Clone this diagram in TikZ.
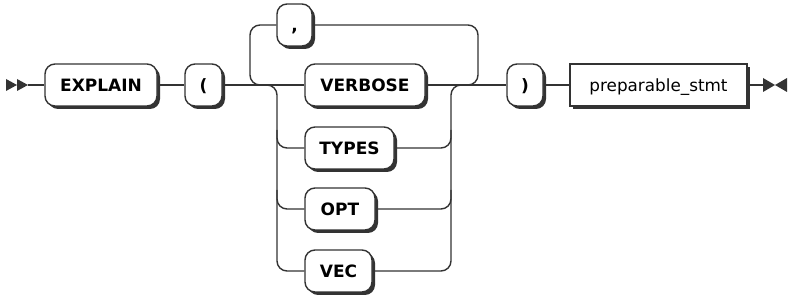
\documentclass[tikz,border=0pt]{standalone}
\usepackage{fontspec}
\setmainfont{DejaVu Sans}
\usetikzlibrary{shadows}
\definecolor{rr}{HTML}{333333}
\begin{document}
\begin{tikzpicture}[x=1pt,y=-1pt,
  conn/.style={draw=rr,line width=1.4pt},
  rconn/.style={conn,rounded corners=10pt},
  boxbase/.style={draw=rr,line width=1.4pt,fill=white,minimum height=42pt,inner sep=0pt,
    text height=12.4pt,text depth=0pt,
    drop shadow={shadow xshift=3pt,shadow yshift=-3pt,fill=rr,opacity=1}},
  term/.style={boxbase,rounded corners=10pt,font=\fontsize{17}{20}\selectfont\bfseries},
  nonterm/.style={boxbase,font=\fontsize{16.8}{20}\selectfont},
  tip/.style={fill=rr}
]
\useasboundingbox (0,0) rectangle (793,299);

% nodes
\node[term,minimum width=112pt] (explain) at (101,85) {EXPLAIN};
\node[term,minimum width=37pt] (lparen) at (203.5,85) {(};
\node[term,minimum width=35pt] (comma) at (294.5,25) {,};
\node[term,minimum width=120pt] (verbose) at (365,85) {VERBOSE};
\node[term,minimum width=89pt] (types) at (349.5,148) {TYPES};
\node[term,minimum width=70pt] (opt) at (340,209) {OPT};
\node[term,minimum width=67pt] (vec) at (338.5,271) {VEC};
\node[term,minimum width=36pt] (rparen) at (525,85) {)};
\node[nonterm,minimum width=177pt] (stmt) at (658.5,85) {preparable\_stmt};

\coordinate (s) at (28,85);
\coordinate (e) at (763,85);

% start / end markers
\fill[tip] (6,79) -- (17,85) -- (6,91) -- cycle;
\fill[tip] (17,79) -- (28,85) -- (17,91) -- cycle;
\fill[tip] (763,78) -- (775,85) -- (763,92) -- cycle;
\fill[tip] (787,78) -- (775,85) -- (787,92) -- cycle;

% main line
\draw[conn] (s) -- (explain.west);
\draw[conn] (explain.east) -- (lparen.west);
\draw[conn] (lparen.east) -- (verbose.west);
\draw[conn] (verbose.east) -- (rparen.west);
\draw[conn] (rparen.east) -- (stmt.west);
\draw[conn] (stmt.east) -- (e);

% loop with separator
\draw[rconn] (comma.west) -- (250,25) -- (250,85) -- (262,85);
\draw[rconn] (comma.east) -- (478,25) -- (478,85) -- (466,85);

% choice left side
\draw[rconn] (265,85) -- (277,85) -- (277,271) -- (vec.west);
\draw[rconn] (277,130) -- (277,148) -- (types.west);
\draw[rconn] (277,190) -- (277,209) -- (opt.west);

% choice right side
\draw[rconn] (vec.east) -- (451,271) -- (451,85) -- (463,85);
\draw[rconn] (types.east) -- (451,148) -- (451,130);
\draw[rconn] (opt.east) -- (451,209) -- (451,190);
\end{tikzpicture}
\end{document}
